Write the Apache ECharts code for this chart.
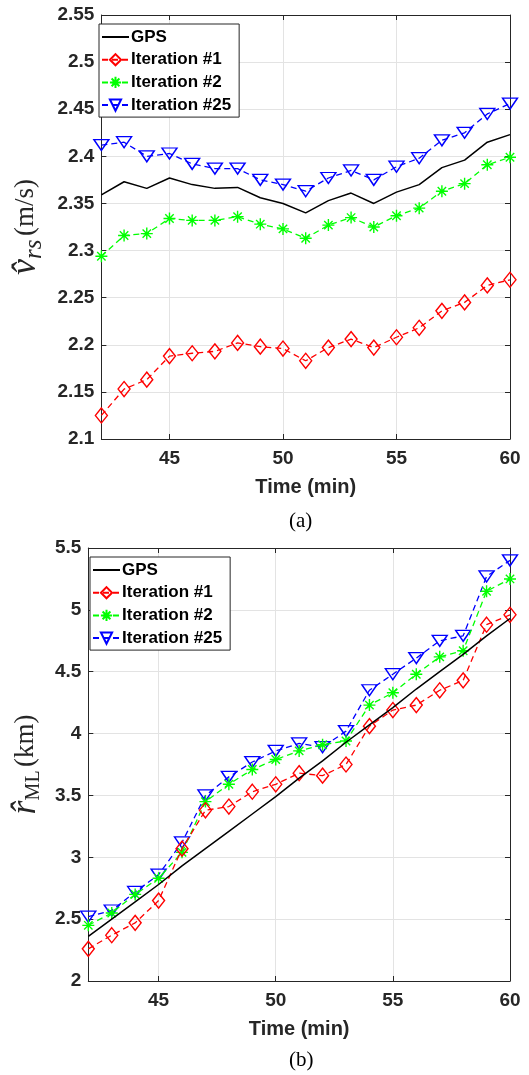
<!DOCTYPE html>
<html>
<head>
<meta charset="utf-8">
<script src="https://cdn.jsdelivr.net/npm/echarts@6/dist/echarts.min.js"></script>
<style>html,body{margin:0;padding:0;background:#fff;}#c{width:529px;height:1075px;}</style>
</head>
<body>
<div id="c"></div>
<script>
// ---- data ----
const time = [42,43,44,45,46,47,48,49,50,51,52,53,54,55,56,57,58,59,60];
const xTicks = [45,50,55,60];
// (a) speed v_rs (m/s)
const gpsV  = [2.359,2.373,2.366,2.377,2.370,2.366,2.367,2.356,2.350,2.340,2.353,2.361,2.350,2.362,2.370,2.388,2.396,2.415,2.423];
const it1V  = [2.125,2.153,2.163,2.188,2.191,2.193,2.202,2.198,2.196,2.183,2.197,2.206,2.197,2.208,2.218,2.236,2.245,2.263,2.269];
const it2V  = [2.294,2.316,2.318,2.334,2.332,2.332,2.336,2.328,2.323,2.313,2.327,2.335,2.325,2.337,2.345,2.363,2.371,2.391,2.399];
const it25V = [2.412,2.415,2.400,2.403,2.392,2.387,2.387,2.375,2.370,2.363,2.377,2.385,2.375,2.389,2.398,2.417,2.425,2.445,2.456];
// (b) range r_ML (km)
const gpsR  = [2.36,2.50,2.64,2.78,2.93,3.07,3.21,3.35,3.49,3.64,3.78,3.93,4.07,4.21,4.36,4.50,4.64,4.79,4.93];
const it1R  = [2.26,2.37,2.47,2.65,3.07,3.38,3.41,3.53,3.59,3.68,3.66,3.75,4.06,4.19,4.23,4.35,4.43,4.88,4.96];
const it2R  = [2.45,2.55,2.70,2.83,3.04,3.45,3.59,3.71,3.79,3.86,3.91,3.94,4.23,4.33,4.48,4.62,4.67,5.15,5.25];
const it25R = [2.52,2.57,2.72,2.86,3.12,3.50,3.65,3.77,3.86,3.92,3.89,4.02,4.35,4.48,4.61,4.75,4.79,5.27,5.40];
const names = ['GPS','Iteration #1','Iteration #2','Iteration #25'];

const AX = '#262626';
const SANS = 'Liberation Sans';
const SERIF = 'Liberation Serif';
const asterisk = 'path://M0,-10L0,10M-10,0L10,0M-7,-7L7,7M-7,7L7,-7';

function pairs(arr){ return time.map((t,i)=>[t,arr[i]]); }

const styles = [
  {color:'#000000', symbol:'none', dash:'solid', w:1.5},
  {color:'#ff0000', symbol:'diamond', size:[12,15], dash:[6,4], w:1.3},
  {color:'#00ff00', symbol:asterisk, size:[12,12], dash:[6,4], w:1.3},
  {color:'#0000ff', symbol:'triangle', size:[15,11], rotate:180, dash:[6,4], w:1.3}
];

function mk(i, data, gi){
  const s = styles[i];
  return {
    type:'line', name:names[i], xAxisIndex:gi*2, yAxisIndex:gi*2,
    data:pairs(data), symbol:s.symbol, symbolSize:s.size||0, symbolRotate:s.rotate||0,
    showSymbol: s.symbol!=='none', animation:false,
    lineStyle:{color:s.color, width:s.w, type:s.dash},
    itemStyle:{color: 'rgba(0,0,0,0)', borderColor:s.color, borderWidth:1.4},
    emphasis:{disabled:true}, z: 10-i
  };
}

function xAx(gi, main){
  return {
    type:'value', gridIndex:gi, min:42, max:60, position: main?'bottom':'top',
    axisLine:{show:true, onZero:false, lineStyle:{color:AX, width:1}},
    axisTick:{show:true, inside:true, length:5, lineStyle:{color:AX}, customValues:xTicks},
    axisLabel:{show:main, color:AX, fontFamily:SANS, fontWeight:'bold', fontSize:19, margin:10, customValues:xTicks},
    splitLine:{show:main, lineStyle:{color:'#e3e3e3', width:1}},
    name: main ? 'Time (min)' : '', nameLocation:'middle', nameGap:38,
    nameTextStyle:{color:AX, fontFamily:SANS, fontWeight:'bold', fontSize:20}
  };
}
function yAx(gi, main, min, max, iv, name, rich, gap){
  return {
    type:'value', gridIndex:gi, min:min, max:max, interval:iv, position: main?'left':'right',
    axisLine:{show:true, onZero:false, lineStyle:{color:AX, width:1}},
    axisTick:{show:true, inside:true, length:5, lineStyle:{color:AX}},
    axisLabel:{show:main, color:AX, fontFamily:SANS, fontWeight:'bold', fontSize:19, margin:7},
    splitLine:{show:main, lineStyle:{color:'#e3e3e3', width:1}},
    name: main ? name : '', nameLocation:'middle', nameGap:gap, nameRotate:90,
    nameTextStyle:{rich:rich}
  };
}
const richA = {
  v:{fontFamily:SERIF, fontStyle:'italic', fontSize:36, color:AX},
  s:{fontFamily:SERIF, fontStyle:'italic', fontSize:25, color:AX, verticalAlign:'bottom', padding:[16,0,0,0]},
  u:{fontFamily:SERIF, fontSize:27, color:AX}
};
const richB = {
  v:{fontFamily:SERIF, fontStyle:'italic', fontSize:36, color:AX},
  s:{fontFamily:SERIF, fontSize:20, color:AX, verticalAlign:'bottom', padding:[16,0,0,0]},
  u:{fontFamily:SERIF, fontSize:27, color:AX}
};

function leg(left, top){
  return {
    data:[
      {name:'GPS', itemStyle:{color:'rgba(0,0,0,0)', borderColor:'rgba(0,0,0,0)', borderWidth:0}},
      'Iteration #1','Iteration #2','Iteration #25'
    ],
    orient:'vertical', left:left, top:top, itemWidth:27, itemHeight:14, itemGap:4.7,
    backgroundColor:'#fff', borderColor:AX, borderWidth:1, borderRadius:0, padding:[4,8,3,2],
    textStyle:{color:'#000', fontFamily:SANS, fontWeight:'bold', fontSize:17, lineHeight:18, padding:[0,0,0,-3]},
    selectedMode:false
  };
}

const option = {
  animation:false,
  backgroundColor:'#fff',
  grid:[
    {left:91, top:15, width:419, height:424, show:false},
    {left:82, top:548, width:428, height:433, show:false}
  ],
  xAxis:[xAx(0,true), xAx(0,false), xAx(1,true), xAx(1,false)],
  yAxis:[
    yAx(0,true,2.1,2.55,0.05,'{v|v̂}{s|rs} {u|(m/s)}', richA, 52),
    yAx(0,false,2.1,2.55,0.05,'',richA,0),
    yAx(1,true,2,5.5,0.5,'{v|r̂}{s|ML} {u|(km)}', richB, 44),
    yAx(1,false,2,5.5,0.5,'',richB,0)
  ],
  legend:[leg(99,24), leg(90,557)],
  series:[
    mk(0,gpsV,0), mk(1,it1V,0), mk(2,it2V,0), mk(3,it25V,0),
    mk(0,gpsR,1), mk(1,it1R,1), mk(2,it2R,1), mk(3,it25R,1)
  ],
  graphic:[
    {type:'text', left:289, top:511, style:{text:'(a)', font:'21px "Liberation Serif"', fill:'#000'}},
    {type:'text', left:289, top:1050, style:{text:'(b)', font:'21px "Liberation Serif"', fill:'#000'}}
  ]
};
const chart = echarts.init(document.getElementById('c'), null, {renderer:'canvas'});
chart.setOption(option);
</script>
</body>
</html>
